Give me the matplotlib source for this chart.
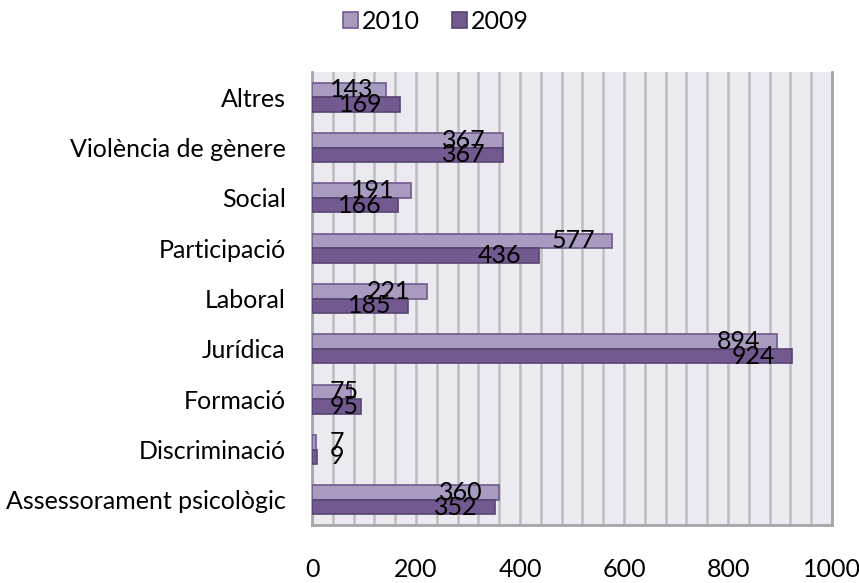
import matplotlib
matplotlib.use("Agg")
import matplotlib.pyplot as plt
from matplotlib.ticker import MultipleLocator
import numpy as np

categories = ["Assessorament psicològic", "Discriminació", "Formació", "Jurídica",
              "Laboral", "Participació", "Social", "Violència de gènere", "Altres"]
v2010 = [360, 7, 75, 894, 221, 577, 191, 367, 143]
v2009 = [352, 9, 95, 924, 185, 436, 166, 367, 169]
xticks = [0, 200, 400, 600, 800, 1000]

plt.rcParams['font.family'] = ['Lato', 'DejaVu Sans']
FS = 18

fig = plt.figure(figsize=(8.59, 5.83), dpi=100)
ax = fig.add_axes([312/859, 1-525/583, (832-312)/859, (525-72)/583])
ax.set_facecolor('#ECEAF1')

y = np.arange(len(categories))
h = 0.29
c10, e10 = '#A99BBF', '#6F5B8E'
c09, e09 = '#72598F', '#574571'
ax.barh(y + h/2, v2010, height=h, color=c10, edgecolor=e10, linewidth=1.2, label='2010', zorder=3)
ax.barh(y - h/2, v2009, height=h, color=c09, edgecolor=e09, linewidth=1.2, label='2009', zorder=3)

ax.set_xlim(0, 1000)
ax.set_ylim(-0.5, len(categories) - 0.5)
ax.xaxis.set_minor_locator(MultipleLocator(40))
ax.set_xticks(xticks)
ax.set_xticklabels([str(t) for t in xticks])
ax.grid(axis='x', which='both', color='#BDBDBD', linewidth=1.8, zorder=1)
ax.set_yticks(y)
ax.set_yticklabels(categories)
ax.tick_params(axis='x', which='both', length=0, pad=24, labelsize=FS)
ax.tick_params(axis='y', length=0, pad=19, labelsize=FS)
ax.spines['top'].set_visible(False)
for s in ('left', 'bottom', 'right'):
    ax.spines[s].set_color('#A6A6A6')
    ax.spines[s].set_linewidth(2)

fig.canvas.draw()
renderer = fig.canvas.get_renderer()
ax_left_px = ax.get_window_extent(renderer).x0
for yy, v10, v09 in zip(y, v2010, v2009):
    for val, off in ((v10, h/2), (v09, -h/2)):
        t = ax.annotate(str(val), (val, yy + off), xytext=(-17, 0), textcoords='offset pixels',
                        ha='right', va='center', fontsize=FS, color='black', zorder=4)
        bb = t.get_window_extent(renderer)
        if bb.x0 < ax_left_px + 18:
            t.remove()
            ax.annotate(str(val), (0, yy + off), xytext=(18, 0), textcoords='offset pixels',
                        ha='left', va='center', fontsize=FS, color='black', zorder=4)

fig.legend(loc='upper center', bbox_to_anchor=(436/859, 1.022), ncol=2, frameon=False,
           fontsize=FS, handlelength=0.6, handleheight=0.6, handletextpad=0.15,
           columnspacing=1.3)

fig.savefig('out.png', dpi=100)
